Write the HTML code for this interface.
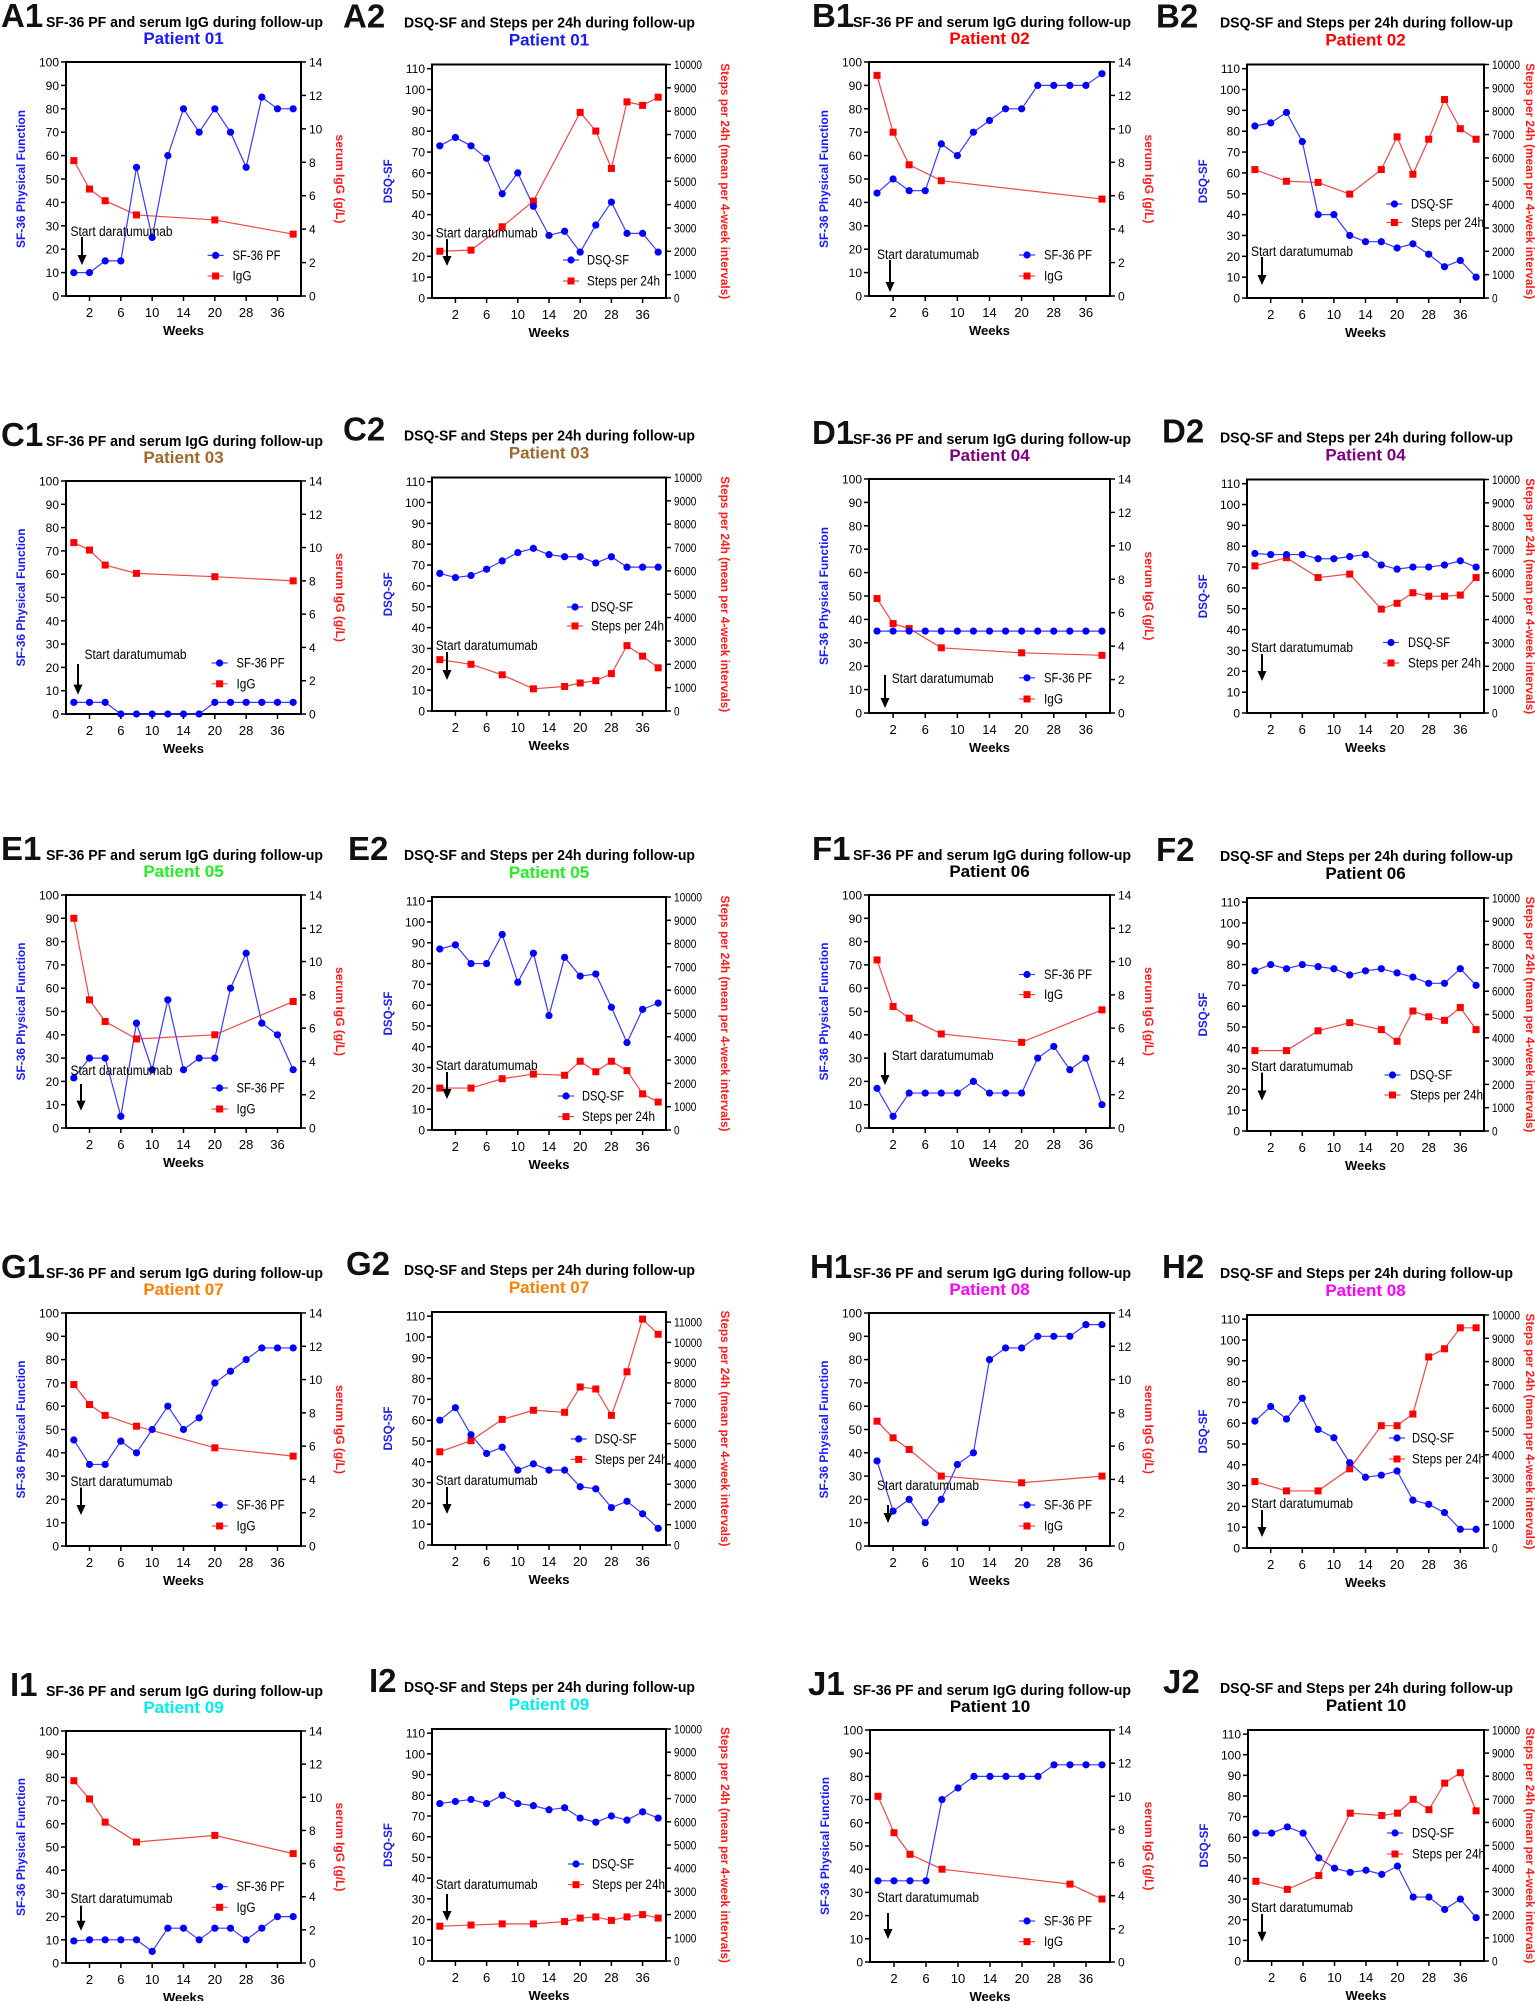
<!DOCTYPE html>
<html><head><meta charset="utf-8">
<style>
html,body{margin:0;padding:0;background:#fff;}
svg{display:block;font-family:"Liberation Sans Narrow","Liberation Sans",Arial,sans-serif;}
</style></head>
<body>
<svg id="s" xmlns="http://www.w3.org/2000/svg" width="1535" height="2001" viewBox="0 0 1535 2001"></svg>
<script>
const C=[
{t:1,lab:'A1',lx:1,L:66,R:301,T:62,B:296,p:'01',pc:'#1a1aff',b:[10,10,15,15,55,25,60,80,70,80,70,55,85,80,80],r:{0:8.1,1:6.4,2:5.7,4:4.85,9:4.55,14:3.7},an:[70.5,236,82,237,265],lg:[215.6,232.5,255.4,276]},
{t:2,lab:'A2',lx:343,L:432,R:666,T:64.5,B:298,p:'01',pc:'#1a1aff',b:[73,77,73,67,50,60,44,30,32,22,35,46,31,31,22],r:{0:2000,2:2050,4:3050,6:4150,9:7950,10:7150,11:5550,12:8400,13:8250,14:8600},an:[435.7,237.5,447,239,266],lg:[571,587,260,281]},
{t:1,lab:'B1',lx:812,L:869,R:1110,T:62,B:296,p:'02',pc:'#ff0000',b:[44,50,45,45,65,60,70,75,80,80,90,90,90,90,95],r:{0:13.2,1:9.8,2:7.85,4:6.9,14:5.8},an:[877,259,890,260,292],lg:[1027,1044,255,276]},
{t:2,lab:'B2',lx:1156,L:1247,R:1484,T:64.5,B:298,p:'02',pc:'#ff0000',b:[82.5,84,89,75,40,40,30,27,27,24,26,21,15,18,10],r:{0:5500,2:5000,4:4950,6:4450,8:5500,9:6900,10:5300,11:6800,12:8500,13:7250,14:6800},an:[1251,256,1262,257,285],lg:[1394.4,1411,204,222.5]},
{t:1,lab:'C1',lx:1,L:66,R:301,T:481,B:714,p:'03',pc:'#a0692b',b:[5,5,5,0,0,0,0,0,0,5,5,5,5,5,5],r:{0:10.3,1:9.85,2:8.95,4:8.45,9:8.25,14:8.0},an:[84.5,659,78,664,694.6],lg:[219.6,236.5,663,683.8]},
{t:2,lab:'C2',lx:343,L:432,R:666,T:477.5,B:711,p:'03',pc:'#a0692b',b:[66,64,65,68,72,76,78,75,74,74,71,74,69,69,69],r:{0:2200,2:2000,4:1550,6:950,8:1050,9:1200,10:1300,11:1600,12:2800,13:2350,14:1850},an:[435.7,650,447,652,680],lg:[575,591,607,626]},
{t:1,lab:'D1',lx:812,L:869,R:1110,T:479,B:713,p:'04',pc:'#800080',b:[35,35,35,35,35,35,35,35,35,35,35,35,35,35,35],r:{0:6.85,1:5.35,2:5.05,4:3.9,9:3.6,14:3.45},an:[891.7,683,885,675,708],lg:[1027,1044,677.8,699]},
{t:2,lab:'D2',lx:1162,L:1247,R:1484,T:479.5,B:713,p:'04',pc:'#800080',b:[76.5,76,76,76,74,74,75,76,71,69,70,70,71,73,70],r:{0:6300,2:6650,4:5800,6:5950,8:4450,9:4700,10:5150,11:5000,12:5000,13:5050,14:5800},an:[1251,652,1262,654,681],lg:[1391,1408,642.5,663]},
{t:1,lab:'E1',lx:1,L:66,R:301,T:895,B:1128,p:'05',pc:'#22ee22',b:[21.5,30,30,5,45,25,55,25,30,30,60,75,45,40,25],r:{0:12.6,1:7.7,2:6.4,4:5.35,9:5.6,14:7.6},an:[70.5,1075,81,1084,1110.6],lg:[219.6,236.5,1088,1109]},
{t:2,lab:'E2',lx:348,L:432,R:666,T:897,B:1130,p:'05',pc:'#22ee22',b:[87,89,80,80,94,71,85,55,83,74,75,59,42,58,61],r:{0:1800,2:1800,4:2200,6:2400,8:2350,9:2950,10:2500,11:2950,12:2550,13:1550,14:1200},an:[435.7,1070,447,1072,1099],lg:[566,582,1096,1116.6]},
{t:1,lab:'F1',lx:812,L:869,R:1110,T:895,B:1128,p:'06',pc:'#000000',b:[17,5,15,15,15,15,20,15,15,15,30,35,25,30,10],r:{0:10.1,1:7.3,2:6.6,4:5.65,9:5.15,14:7.1},an:[891.7,1060,885,1052.5,1085],lg:[1027,1044,974.5,994.6]},
{t:2,lab:'F2',lx:1156,L:1247,R:1484,T:898,B:1131,p:'06',pc:'#000000',b:[77,80,78,80,79,78,75,77,78,76,74,71,71,78,70],r:{0:3450,2:3450,4:4300,6:4650,8:4350,9:3850,10:5150,11:4900,12:4750,13:5300,14:4350},an:[1251,1071,1262,1072.6,1100.5],lg:[1392.5,1410,1075,1095]},
{t:1,lab:'G1',lx:1,L:66,R:301,T:1313,B:1546,p:'07',pc:'#ff8000',b:[45.5,35,35,45,40,50,60,50,55,70,75,80,85,85,85],r:{0:9.7,1:8.5,2:7.85,4:7.2,9:5.9,14:5.4},an:[70.5,1486,81,1487.6,1515],lg:[219.6,236.5,1505,1526]},
{t:2,lab:'G2',lx:346,L:432,R:666,T:1312,B:1545,p:'07',pc:'#ff8000',rmax:11500,b:[60,66,53,44,47,36,39,36,36,28,27,18,21,15,8],r:{0:4600,2:5150,4:6200,6:6650,8:6550,9:7800,10:7700,11:6400,12:8550,13:11150,14:10400},an:[435.7,1485,447,1487,1514],lg:[578.7,594.6,1439,1459.4]},
{t:1,lab:'H1',lx:810,L:869,R:1110,T:1313,B:1546,p:'08',pc:'#ff00ff',b:[36.5,15,20,10,20,35,40,80,85,85,90,90,90,95,95],r:{0:7.5,1:6.5,2:5.8,4:4.2,9:3.8,14:4.2},an:[877,1490,888,1505,1523],lg:[1027,1044,1505,1526]},
{t:2,lab:'H2',lx:1162,L:1247,R:1484,T:1315,B:1548,p:'08',pc:'#ff00ff',b:[61,68,62,72,57,53,41,34,35,37,23,21,17,9,9],r:{0:2850,2:2450,4:2450,6:3400,8:5250,9:5250,10:5750,11:8200,12:8550,13:9450,14:9450},an:[1251,1508,1262,1510,1537],lg:[1397,1412,1438,1459]},
{t:1,lab:'I1',lx:10,L:66,R:301,T:1731,B:1963,p:'09',pc:'#00eeee',b:[9.5,10,10,10,10,5,15,15,10,15,15,10,15,20,20],r:{0:11.0,1:9.9,2:8.5,4:7.3,9:7.7,14:6.6},an:[70.5,1903,81,1905.7,1930.7],lg:[219.6,236.5,1886.7,1907.3]},
{t:2,lab:'I2',lx:369,L:432,R:666,T:1729,B:1961,p:'09',pc:'#00eeee',b:[76,77,78,76,80,76,75,73,74,69,67,70,68,72,69],r:{0:1500,2:1550,4:1600,6:1600,8:1700,9:1850,10:1900,11:1750,12:1900,13:2000,14:1850},an:[435.7,1889,447,1894,1921],lg:[576,592,1864,1884.7]},
{t:1,lab:'J1',lx:808,L:870,R:1110,T:1730,B:1962,p:'10',pc:'#000000',b:[35,35,35,35,70,75,80,80,80,80,80,85,85,85,85],r:{0:10,1:7.8,2:6.5,4:5.6,12:4.7,14:3.8},an:[877,1902,888,1913,1939],lg:[1027,1044,1921,1941.7]},
{t:2,lab:'J2',lx:1163,L:1248,R:1484,T:1730,B:1961,p:'10',pc:'#000000',b:[62,62,65,62,50,45,43,44,42,46,31,31,25,30,21],r:{0:3450,2:3100,4:3700,6:6400,8:6300,9:6400,10:7000,11:6550,12:7700,13:8150,14:6500},an:[1251,1912,1262,1914,1941.7],lg:[1395,1412,1833,1854]}
];
const BL='#1a1aff',RD='#ff1a1a';
let h='';
function tx(x,y,s,o){o=o||{};return `<text x="${x}" y="${y}" font-size="${o.fs||12}" ${o.fw?'font-weight="bold"':''} fill="${o.c||'#000'}" text-anchor="${o.a||'start'}" ${o.tl?`textLength="${o.tl}" lengthAdjust="spacingAndGlyphs"`:''} ${o.tr?`transform="${o.tr}"`:''}>${s}</text>`;}
const colX={1:{1:[46,277],2:[404,291]},2:{1:[853,278],2:[1220,293]}};
C.forEach(c=>{
 const {L,R,T,B}=c,W=R-L,H=B-T;
 const t1=c.t===1;
 const lmax=t1?100:112, rmax=t1?14:(c.rmax||10000);
 const side=L<800?1:2;
 const tt=colX[side][c.t];
 const ty=t1?T-35:T-37, py=t1?T-18:T-19;
 h+=tx(c.lx,ty,c.lab,{fs:33,fw:1,c:'#111'});
 h+=tx(tt[0],ty,t1?'SF-36 PF and serum IgG during follow-up':'DSQ-SF and Steps per 24h during follow-up',{fs:15,fw:1,tl:tt[1]});
 h+=tx((L+R)/2,py,'Patient '+c.p,{fs:17,fw:1,c:c.pc,a:'middle'});
 h+=`<rect x="${L}" y="${T}" width="${W}" height="${H}" fill="none" stroke="#000" stroke-width="2"/>`;
 const ly=v=>B-v/lmax*H, ry=v=>B-v/rmax*H, px=i=>L+(i+0.5)*W/15;
 for(let v=0;v<=(t1?100:110);v+=10){const y=ly(v);h+=`<line x1="${L-5}" y1="${y}" x2="${L}" y2="${y}" stroke="#000" stroke-width="1.5"/>`;h+=tx(L-7,y+4.5,v,{a:'end'});}
 const rs=t1?2:1000;
 for(let v=0;v<=rmax;v+=rs){const y=ry(v);h+=`<line x1="${R}" y1="${y}" x2="${R+5}" y2="${y}" stroke="#000" stroke-width="1.5"/>`;h+=tx(R+8,y+4.5,v,t1?{}:{fs:12,tl:String(v).length*5.6});}
 [2,6,10,14,20,28,36].forEach((l,k)=>{const x=px(2*k+1);h+=`<line x1="${x}" y1="${B}" x2="${x}" y2="${B+5}" stroke="#000" stroke-width="1.5"/>`;h+=tx(x,B+21,l,{a:'middle',fs:13});});
 h+=tx((L+R)/2,B+39,'Weeks',{a:'middle',fs:13,fw:1});
 const lxp=L-(t1?41:40), cy=(T+B)/2;
 h+=tx(lxp,cy,t1?'SF-36 Physical Function':'DSQ-SF',{fs:11.5,fw:1,c:BL,a:'middle',tr:`rotate(-90 ${lxp} ${cy})`,tl:t1?138:44});
 const rxp=t1?R+35:(side===2?1526:R+55);
 h+=tx(rxp,cy,t1?'serum IgG (g/L)':'Steps per 24h (mean per 4-week intervals)',{fs:11.5,fw:1,c:RD,a:'middle',tr:`rotate(90 ${rxp} ${cy})`,tl:t1?89:236});
 const bp=c.b.map((v,i)=>[px(i),ly(v)]);
 const rp=Object.keys(c.r).map(k=>[px(+k),ry(c.r[k])]);
 h+=`<polyline points="${rp.map(p=>p.join(',')).join(' ')}" fill="none" stroke="#f04848" stroke-width="1.2"/>`;
 h+=`<polyline points="${bp.map(p=>p.join(',')).join(' ')}" fill="none" stroke="#3a3aff" stroke-width="1.2"/>`;
 rp.forEach(p=>h+=`<rect x="${p[0]-3.5}" y="${p[1]-3.5}" width="7" height="7" fill="#f00"/>`);
 bp.forEach(p=>h+=`<circle cx="${p[0]}" cy="${p[1]}" r="3.6" fill="#00f"/>`);
 const a=c.an;
 h+=tx(a[0],a[1],'Start daratumumab',{fs:13.5,tl:102});
 h+=`<line x1="${a[2]}" y1="${a[3]}" x2="${a[2]}" y2="${a[4]-8}" stroke="#000" stroke-width="2"/>`;
 h+=`<polygon points="${a[2]-4.5},${a[4]-10} ${a[2]+4.5},${a[4]-10} ${a[2]},${a[4]}" fill="#000"/>`;
 const g=c.lg;
 h+=`<line x1="${g[0]-8}" y1="${g[2]}" x2="${g[0]+8}" y2="${g[2]}" stroke="#3a3aff" stroke-width="1.2"/><circle cx="${g[0]}" cy="${g[2]}" r="3.6" fill="#00f"/>`;
 h+=`<line x1="${g[0]-8}" y1="${g[3]}" x2="${g[0]+8}" y2="${g[3]}" stroke="#f04848" stroke-width="1.2"/><rect x="${g[0]-3.5}" y="${g[3]-3.5}" width="7" height="7" fill="#f00"/>`;
 h+=tx(g[1],g[2]+4.5,t1?'SF-36 PF':'DSQ-SF',{fs:13.5,tl:t1?48:42});
 h+=tx(g[1],g[3]+4.5,t1?'IgG':'Steps per 24h',{fs:13.5,tl:t1?19:73});
});
document.getElementById('s').innerHTML=h;
</script>
</body></html>
